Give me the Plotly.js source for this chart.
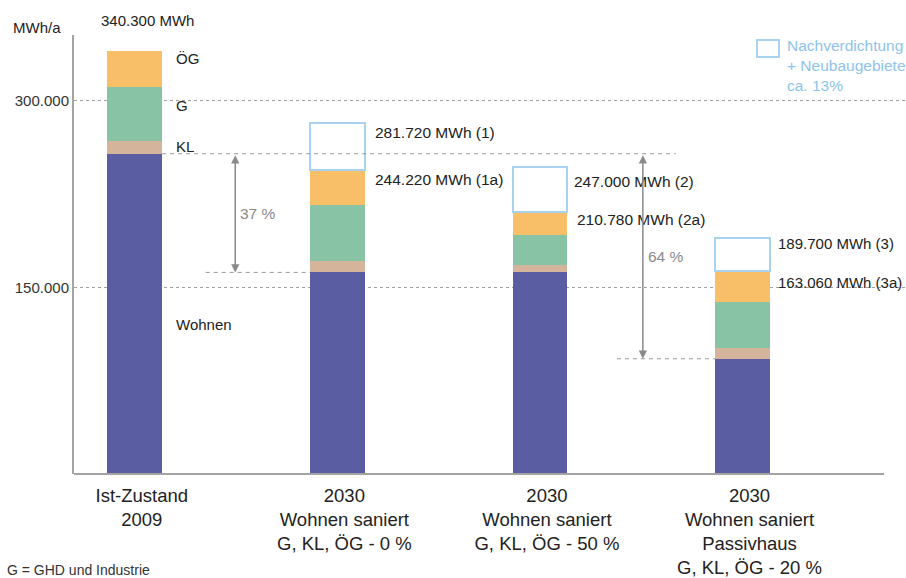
<!DOCTYPE html>
<html>
<head>
<meta charset="utf-8">
<script src="https://cdn.plot.ly/plotly-3.0.1.min.js"></script>
<style>
  html, body { margin: 0; padding: 0; background: #fff; }
  #chart { width: 906px; height: 578px; }
</style>
</head>
<body>
<div id="chart"></div>
<script>
// Energiebedarf je Szenario (MWh/a), gestapelt nach Sektoren
const categories = [
  'Ist-Zustand<br>2009',
  '2030<br>Wohnen saniert<br>G, KL, ÖG - 0 %',
  '2030<br>Wohnen saniert<br>G, KL, ÖG - 50 %',
  '2030<br>Wohnen saniert<br>Passivhaus<br>G, KL, ÖG - 20 %'
];
const wohnen = [257400, 162000, 162000, 92600];
const kl     = [10450, 9300, 5870, 8840];
const ghd    = [43400, 44700, 23930, 36980];
const oeg    = [29050, 28220, 18980, 24640];
// Gesamtbedarf einschließlich Nachverdichtung + Neubaugebiete
const totalMitNeubau = [null, 281720, 247000, 189700];
const scenarioTags = ['', '1', '2', '3'];
const yTicks = [150000, 300000];

const FONT = 'Liberation Sans, Arial, sans-serif';
const BAR_W = 0.27;
const HALF = BAR_W / 2;

const fmt = v => String(Math.round(v)).replace(/\B(?=(\d{3})+(?!\d))/g, '.');

const base = wohnen.map((w, i) => w + kl[i] + ghd[i] + oeg[i]);
const neubau = totalMitNeubau.map((t, i) => (t == null ? null : t - base[i]));

const seg = (name, vals, color) => ({
  type: 'bar', name: name, x: categories, y: vals, width: BAR_W,
  marker: { color: color, line: { width: 0 } },
  hoverinfo: 'skip'
});

const traces = [
  seg('Wohnen', wohnen, '#5a5da1'),
  seg('KL', kl, '#d4b49b'),
  seg('G', ghd, '#87c3a4'),
  seg('ÖG', oeg, '#f8bf68'),
  {
    type: 'bar', name: 'Nachverdichtung + Neubaugebiete', x: categories, y: neubau, width: BAR_W,
    marker: { color: '#ffffff', line: { color: '#a9d1f0', width: 2 } },
    hoverinfo: 'skip'
  }
];

const txt = (size, color, family) => ({ size: size, color: color, family: family || FONT });
const annotations = [];
const shapes = [];

// Werte-Beschriftungen an den Säulen
annotations.push({
  x: 0, y: base[0], xref: 'x', yref: 'y', text: fmt(base[0]) + ' MWh',
  showarrow: false, xanchor: 'center', yanchor: 'middle', xshift: 13, yshift: 30,
  font: txt(15, '#222')
});
const upperShift = [0, -9, -15, -6];
const lowerShift = [0, -9, -8, -11];
const labelX = [0, 8, 5, 6];
const labelX2 = [0, 8, 8, 6];
for (let i = 1; i < categories.length; i++) {
  annotations.push({
    x: i + HALF, y: totalMitNeubau[i], xref: 'x', yref: 'y',
    text: fmt(totalMitNeubau[i]) + ' MWh (' + scenarioTags[i] + ')',
    showarrow: false, xanchor: 'left', yanchor: 'middle', xshift: labelX[i], yshift: upperShift[i],
    font: txt(i === 3 ? 15 : 15.5, '#222')
  });
  annotations.push({
    x: i + HALF, y: base[i], xref: 'x', yref: 'y',
    text: fmt(base[i]) + ' MWh (' + scenarioTags[i] + 'a)',
    showarrow: false, xanchor: 'left', yanchor: 'middle', xshift: labelX2[i], yshift: lowerShift[i],
    font: txt(i === 3 ? 15 : 15.5, '#222')
  });
}

// Sektorbezeichnungen neben der Ist-Säule
const segLabel = (text, y, dy) => annotations.push({
  x: HALF, y: y, xref: 'x', yref: 'y', text: text, showarrow: false,
  xanchor: 'left', yanchor: 'middle', xshift: 12, yshift: dy, font: txt(15, '#222')
});
segLabel('ÖG', base[0], -8);
segLabel('G', wohnen[0] + kl[0] + ghd[0], -19);
segLabel('KL', wohnen[0] + kl[0], -6);
segLabel('Wohnen', wohnen[0] / 2, -11);

// Hilfslinien (gestrichelt) auf Höhe des Wohnen-Anteils
const dashLine = (x0, x1, y) => shapes.push({
  type: 'line', xref: 'x', yref: 'y', x0: x0, x1: x1, y0: y, y1: y,
  line: { color: '#9a9a9a', width: 1, dash: '4px,4px' }
});
dashLine(HALF, 2.67, wohnen[0]);
dashLine(0.35, 1 - HALF, wohnen[1]);
dashLine(2.38, 3 - HALF, wohnen[3]);

// Doppelpfeile mit Einsparung
const pct = i => Math.round((1 - wohnen[i] / wohnen[0]) * 100) + ' %';
const arrow = (x, i) => {
  annotations.push({
    x: x, y: wohnen[i], ax: x, ay: wohnen[0], xref: 'x', yref: 'y', axref: 'x', ayref: 'y',
    text: '', showarrow: true, arrowside: 'end+start', arrowhead: 2, arrowsize: 1.1,
    arrowwidth: 1.5, arrowcolor: '#8a8a8a'
  });
  annotations.push({
    x: x, y: (wohnen[0] + wohnen[i]) / 2, xref: 'x', yref: 'y', text: pct(i),
    showarrow: false, xanchor: 'center', yanchor: 'middle', xshift: 23,
    font: txt(15.5, '#8a8a8a')
  });
};
arrow(0.496, 1);
arrow(2.508, 3);

// Legende Nachverdichtung
shapes.push({
  type: 'rect', xref: 'paper', yref: 'paper', x0: 0.8209, x1: 0.8474, y0: 0.9499, y1: 0.9886,
  line: { color: '#a9d1f0', width: 2 }, fillcolor: '#ffffff'
});
annotations.push({
  x: 0.8546, y: 1.0, xref: 'paper', yref: 'paper', xanchor: 'left', yanchor: 'top', align: 'left',
  text: 'Nachverdichtung<br>+ Neubaugebiete<br>ca. 13%', showarrow: false,
  font: txt(15.5, '#8ec3ec')
});

// Achsenbeschriftung und Fußnote
annotations.push({
  x: -0.0445, y: 1.018, xref: 'paper', yref: 'paper', xanchor: 'center', yanchor: 'middle',
  text: 'MWh/a', showarrow: false, font: txt(15, '#222')
});
annotations.push({
  x: -0.083, y: -0.2187, xref: 'paper', yref: 'paper', xanchor: 'left', yanchor: 'middle',
  text: 'G = GHD und Industrie', showarrow: false, font: txt(14, '#333')
});

// x-Achsenlinie
shapes.push({
  type: 'line', xref: 'paper', yref: 'paper', x0: 0, x1: 0.9736, y0: 0, y1: 0,
  line: { color: '#a3a3a3', width: 2 }
});

const layout = {
  width: 906, height: 578,
  margin: { l: 74, r: 0, t: 35, b: 104 },
  paper_bgcolor: '#ffffff', plot_bgcolor: '#ffffff',
  barmode: 'stack',
  showlegend: false,
  separators: ',.',
  font: { family: FONT, color: '#222' },
  xaxis: {
    type: 'category', range: [-0.3, 3.807], showline: false, showgrid: false, zeroline: false,
    ticks: '', tickfont: txt(18.5, '#222'), ticklabelstandoff: 8, ticklabelshift: 7,
    fixedrange: true
  },
  yaxis: {
    range: [0, 352800], tickvals: yTicks, tickformat: ',d',
    showline: true, linecolor: '#a3a3a3', linewidth: 2,
    showgrid: true, gridcolor: '#a0a0a0', griddash: 'dot', gridwidth: 1,
    zeroline: false, ticks: '', tickfont: txt(15, '#333'), fixedrange: true
  },
  shapes: shapes,
  annotations: annotations
};

Plotly.newPlot('chart', traces, layout, { displayModeBar: false, staticPlot: true });
</script>
</body>
</html>
